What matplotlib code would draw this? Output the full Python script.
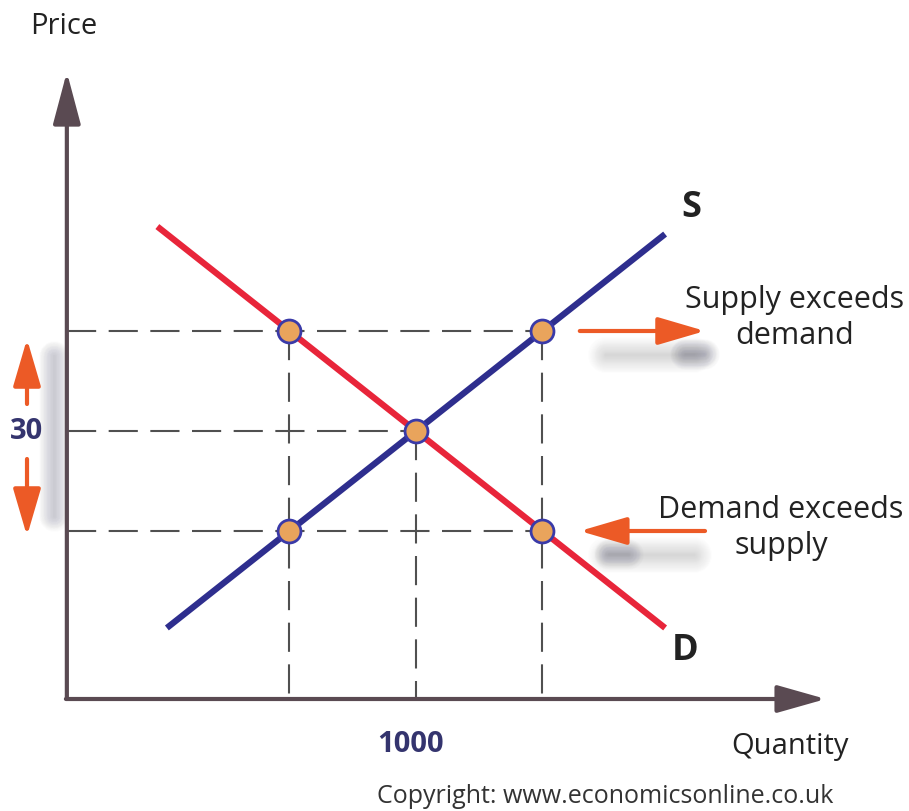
import matplotlib
matplotlib.use('Agg')
import matplotlib.pyplot as plt

plt.rcParams['font.family'] = ['Open Sans', 'DejaVu Sans']

# price / quantity values
eq_q = 1000
eq_p = 30
q_low, q_high = 800, 1200
p_low, p_high = 20, 40

supply_q = [610, 1390]
supply_p = [10.5, 49.5]
demand_q = [595, 1390]
demand_p = [50.25, 10.5]

point_q = [800, 1200, 1000, 800, 1200]
point_p = [40, 40, 30, 20, 20]

origin_q, origin_p = 448, 3.2
y_tip = 65.9
x_tip = 1648

# colours
axis_col = '#5a4a52'
supply_col = '#2e2e8e'
demand_col = '#e8253a'
guide_col = '#505050'
marker_fill = '#e9a45c'
marker_edge = '#3a3aa8'
arrow_col = '#ec5a26'
label_col = '#34346e'
text_col = '#222222'


def blur_line(ax, xs, ys, width=30, alpha=0.012, steps=20):
    """ soft grey shadow made from stacked translucent strokes """
    for i in range(steps):
        ax.plot(xs, ys, color='#5a5a70', lw=width * (i + 1) / steps,
                alpha=alpha, solid_capstyle='round', zorder=1)


fig = plt.figure(figsize=(9.09, 8.12), dpi=100)
ax = fig.add_axes([0, 0, 1, 1])
ax.set_xlim(342.3, 1779.5)
ax.set_ylim(-8.0, 73.2)
ax.axis('off')

# shadows
blur_line(ax, [1300, 1440], [37.6, 37.6], width=26, alpha=0.010)
blur_line(ax, [1425, 1455], [37.7, 37.7], width=22, alpha=0.022)
blur_line(ax, [1300, 1440], [17.6, 17.6], width=26, alpha=0.010)
blur_line(ax, [1305, 1335], [17.7, 17.7], width=22, alpha=0.018)
blur_line(ax, [428, 428], [21.5, 37.5], width=22, alpha=0.014)

# dashed guides
dash = dict(color=guide_col, lw=1.5, dashes=(14, 6), zorder=2)
ax.plot([origin_q, q_high], [p_high, p_high], **dash)
ax.plot([origin_q, eq_q], [eq_p, eq_p], **dash)
ax.plot([origin_q, q_high], [p_low, p_low], **dash)
ax.plot([q_low, q_low], [p_high, origin_p], **dash)
ax.plot([eq_q, eq_q], [eq_p, origin_p], **dash)
ax.plot([q_high, q_high], [p_high, origin_p], **dash)

# axes with arrow heads
ax.annotate('', xy=(origin_q, y_tip), xytext=(origin_q, origin_p),
            arrowprops=dict(arrowstyle='-|>,head_length=3.2,head_width=0.85',
                            color=axis_col, lw=3, shrinkA=0, shrinkB=0),
            zorder=3)
ax.annotate('', xy=(x_tip, origin_p), xytext=(origin_q - 1.5, origin_p),
            arrowprops=dict(arrowstyle='-|>,head_length=3.0,head_width=0.85',
                            color=axis_col, lw=3, shrinkA=0, shrinkB=0),
            zorder=3)

# supply and demand
ax.plot(demand_q, demand_p, color=demand_col, lw=4.5, zorder=4)
ax.plot(supply_q, supply_p, color=supply_col, lw=4.5, zorder=5)
ax.plot(point_q, point_p, 'o', ms=16.5, mfc=marker_fill, mec=marker_edge,
        mew=2, zorder=6)

# red arrows
red = dict(arrowstyle='-|>,head_length=2.9,head_width=0.85',
           color=arrow_col, lw=3, shrinkA=0, shrinkB=0)
ax.annotate('', xy=(1457, p_high), xytext=(1259, p_high), arrowprops=red)
ax.annotate('', xy=(1259, p_low), xytext=(1457, p_low), arrowprops=red)
ax.annotate('', xy=(385, 39.2), xytext=(385, 32.7), arrowprops=red)
ax.annotate('', xy=(385, 19.5), xytext=(385, 27.2), arrowprops=red)

# text
ax.text(385, eq_p, '30', ha='center', va='center', fontsize=21,
        fontweight='bold', color=label_col)
ax.text(992, -1.3, '1000', ha='center', va='center', fontsize=21,
        fontweight='bold', color=label_col)
ax.text(443, 70.6, 'Price', ha='center', va='center', fontsize=21,
        color=text_col)
ax.text(1591, -1.5, 'Quantity', ha='center', va='center', fontsize=21,
        color=text_col)
ax.text(1436, 52.4, 'S', ha='center', va='center', fontsize=26,
        fontweight='bold', color=text_col)
ax.text(1425, 8.1, 'D', ha='center', va='center', fontsize=26,
        fontweight='bold', color=text_col)
ax.text(1598, 41.4, 'Supply exceeds\ndemand', ha='center', va='center',
        fontsize=22, color=text_col, linespacing=1.3)
ax.text(1577, 20.4, 'Demand exceeds\nsupply', ha='center', va='center',
        fontsize=22, color=text_col, linespacing=1.3)
ax.text(1299, -6.5, 'Copyright: www.economicsonline.co.uk', ha='center',
        va='center', fontsize=18, color='#333333')

fig.savefig('out.png', dpi=100)
